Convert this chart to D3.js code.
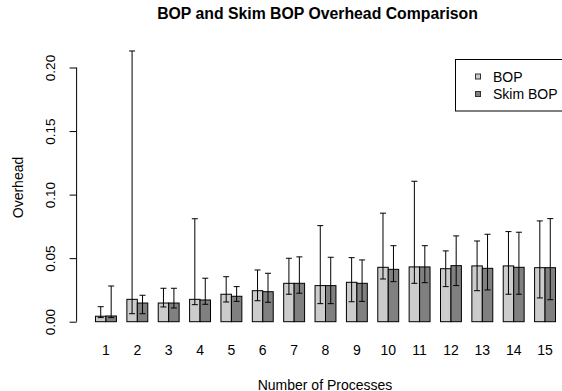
<!DOCTYPE html>
<html>
<head>
<meta charset="utf-8">
<script src="https://cdn.jsdelivr.net/npm/d3@7"></script>
<style>
  html, body { margin: 0; padding: 0; background: #ffffff; }
  svg { display: block; }
  text { font-family: "Liberation Sans", Arial, Helvetica, sans-serif; fill: #000; }
</style>
</head>
<body>
<svg id="chart" width="562" height="391"></svg>
<script>
const categories = ["1","2","3","4","5","6","7","8","9","10","11","12","13","14","15"];
const seriesNames = ["BOP", "Skim BOP"];
const bopMean  = [0.0043, 0.0176, 0.0147, 0.0176, 0.0216, 0.0244, 0.0302, 0.0284, 0.0310, 0.0428, 0.0431, 0.0417, 0.0439, 0.0439, 0.0425];
const skimMean = [0.0045, 0.0147, 0.0147, 0.0171, 0.0200, 0.0236, 0.0302, 0.0284, 0.0302, 0.0412, 0.0431, 0.0441, 0.0420, 0.0428, 0.0425];
const bopHigh  = [0.0118, 0.2130, 0.0263, 0.0810, 0.0354, 0.0407, 0.0499, 0.0756, 0.0504, 0.0854, 0.1105, 0.0557, 0.0635, 0.0709, 0.0793];
const bopLow   = [0.0032, 0.0063, 0.0116, 0.0134, 0.0155, 0.0165, 0.0216, 0.0142, 0.0157, 0.0336, 0.0302, 0.0276, 0.0244, 0.0216, 0.0187];
const skimHigh = [0.0281, 0.0208, 0.0263, 0.0342, 0.0276, 0.0381, 0.0510, 0.0507, 0.0486, 0.0598, 0.0598, 0.0675, 0.0688, 0.0704, 0.0811];
const skimLow  = [0.0032, 0.0063, 0.0108, 0.0137, 0.0160, 0.0153, 0.0224, 0.0142, 0.0160, 0.0315, 0.0307, 0.0284, 0.0250, 0.0216, 0.0173];
const yTicks = [0.00, 0.05, 0.10, 0.15, 0.20];
const yTickLabels = ["0.00", "0.05", "0.10", "0.15", "0.20"];
const colors = ["#cccccc", "#808080"];

const rows = categories.map((c, i) => ({
  cat: c,
  vals: [
    {s: seriesNames[0], v: bopMean[i], lo: bopLow[i], hi: bopHigh[i]},
    {s: seriesNames[1], v: skimMean[i], lo: skimLow[i], hi: skimHigh[i]}
  ]
}));

const svg = d3.select("#chart");
const plotLeft = 76.6, plotRight = 573.4;
const fs = "14px";

const x0 = d3.scaleBand().domain(categories).range([plotLeft, plotRight])
  .paddingInner(1/3).paddingOuter(0.5867);
const x1 = d3.scaleBand().domain(seriesNames).range([0, x0.bandwidth()]).padding(0);
const color = d3.scaleOrdinal().domain(seriesNames).range(colors);
const y = d3.scaleLinear().domain([0, 0.2]).range([321.7, 67.5]);

// Title
svg.append("text").attr("x", 317.5).attr("y", 18.5).attr("text-anchor", "middle")
  .style("font-weight", "bold").style("font-size", "15.8px")
  .text("BOP and Skim BOP Overhead Comparison");

// Bars
const g = svg.append("g").selectAll("g").data(rows).join("g")
  .attr("transform", d => `translate(${x0(d.cat)},0)`);

g.selectAll("rect").data(d => d.vals).join("rect")
  .attr("x", d => x1(d.s) + 0.5)
  .attr("y", d => y(d.v))
  .attr("width", x1.bandwidth())
  .attr("height", d => y(0) - y(d.v))
  .attr("fill", d => color(d.s))
  .attr("stroke", "#000").attr("stroke-width", 1);

// Error bars
const eb = g.selectAll("g.eb").data(d => d.vals).join("g").attr("class", "eb");
eb.append("line")
  .attr("x1", d => x1(d.s) + x1.bandwidth()/2 + 0.5)
  .attr("x2", d => x1(d.s) + x1.bandwidth()/2 + 0.5)
  .attr("y1", d => y(d.lo)).attr("y2", d => y(d.hi))
  .attr("stroke", "#000").attr("stroke-width", 1);
eb.append("line")
  .attr("x1", d => x1(d.s) + x1.bandwidth()/2 - 2.5)
  .attr("x2", d => x1(d.s) + x1.bandwidth()/2 + 3.5)
  .attr("y1", d => y(d.hi)).attr("y2", d => y(d.hi))
  .attr("stroke", "#000").attr("stroke-width", 1);
eb.append("line")
  .attr("x1", d => x1(d.s) + x1.bandwidth()/2 - 2.5)
  .attr("x2", d => x1(d.s) + x1.bandwidth()/2 + 3.5)
  .attr("y1", d => y(d.lo)).attr("y2", d => y(d.lo))
  .attr("stroke", "#000").attr("stroke-width", 1);

// Y axis
const yAxis = d3.axisLeft(y).tickValues(yTicks).tickSize(7)
  .tickFormat((d, i) => yTickLabels[i]);
const ya = svg.append("g").attr("transform", `translate(${plotLeft},0)`).call(yAxis);
ya.select(".domain").attr("d", `M0,${y(0)}V${y(0.2)}`).attr("stroke", "#000");
ya.selectAll(".tick line").attr("stroke", "#000");
ya.selectAll(".tick text")
  .attr("x", null).attr("dy", null)
  .attr("transform", "translate(-21.5,0) rotate(-90)")
  .attr("text-anchor", "middle")
  .style("font-size", "13.5px")
  .style("font-family", "'Liberation Sans', Arial, Helvetica, sans-serif");

// X labels
const xa = svg.append("g");
xa.selectAll("text").data(categories).join("text")
  .attr("x", d => x0(d) + x0.bandwidth()/2 + 0.5)
  .attr("y", 355)
  .attr("text-anchor", "middle")
  .style("font-size", fs)
  .text(d => d);

// Axis titles
svg.append("text").attr("x", 325).attr("y", 389.5).attr("text-anchor", "middle")
  .style("font-size", fs).text("Number of Processes");
svg.append("text").attr("transform", "translate(23.3,187.5) rotate(-90)")
  .attr("text-anchor", "middle").style("font-size", fs).text("Overhead");

// Legend
const lg = svg.append("g");
lg.append("rect").attr("x", 455.5).attr("y", 59.5).attr("width", 150).attr("height", 51.5)
  .attr("fill", "#fff").attr("stroke", "#000");
const items = lg.selectAll("g").data(seriesNames).join("g")
  .attr("transform", (d, i) => `translate(0,${i * 17.5})`);
items.append("rect").attr("x", 475.5).attr("y", 74).attr("width", 5).attr("height", 5)
  .attr("fill", d => color(d)).attr("stroke", "#333");
items.append("text").attr("x", 493).attr("y", 81.7).style("font-size", fs).text(d => d);
</script>
</body>
</html>
